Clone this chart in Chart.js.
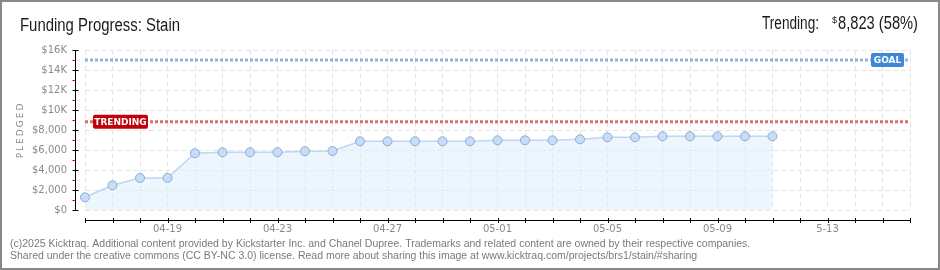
<!DOCTYPE html>
<html>
<head>
<meta charset="utf-8">
<script src="https://cdn.jsdelivr.net/npm/chart.js@4.4.1/dist/chart.umd.min.js"></script>
<style>
  html, body { margin: 0; padding: 0; background: #fff; }
  #wrap { width: 940px; height: 270px; }
</style>
</head>
<body>
<div id="wrap"><canvas id="grafico" width="940" height="270"></canvas></div>
<script>
// days on the x axis (04-16 .. 05-16), the reference prints "5-13" without the zero
const days = [
  "04-16", "04-17", "04-18", "04-19", "04-20", "04-21", "04-22", "04-23",
  "04-24", "04-25", "04-26", "04-27", "04-28", "04-29", "04-30", "05-01",
  "05-02", "05-03", "05-04", "05-05", "05-06", "05-07", "05-08", "05-09",
  "05-10", "05-11", "05-12", "5-13", "05-14", "05-15", "05-16"
];

// pledged amount per day ($)
const pledged = [
  1270, 2470, 3200, 3210, 5670, 5770, 5770, 5780, 5880, 5900,
  6870, 6870, 6870, 6870, 6870, 6970, 6970, 6970, 7070, 7270,
  7270, 7370, 7370, 7370, 7370, 7370
];

const goal = 15000;
const trending = 8823;
const trendingPct = 58;

const title = "Funding Progress: Stain";
const footer = [
  "(c)2025 Kicktraq. Additional content provided by Kickstarter Inc. and Chanel Dupree. Trademarks and related content are owned by their respective companies.",
  "Shared under the creative commons (CC BY-NC 3.0) license. Read more about sharing this image at www.kicktraq.com/projects/brs1/stain/#sharing"
];

const TICK_FONT = "DejaVu Sans";
const HEAD_FONT = "18px 'Liberation Sans', sans-serif";

function money(v) {
  if (v >= 10000) return "$" + (v / 1000) + "K";
  return "$" + v.toLocaleString("en-US");
}

// header text is narrower in the original, squeeze it to a given width
function squeezed(ctx, text, x, y, width) {
  const w = ctx.measureText(text).width;
  ctx.save();
  ctx.translate(x, y);
  ctx.scale(width / w, 1);
  ctx.textAlign = "left";
  ctx.fillText(text, 0, 0);
  ctx.restore();
}

function tag(ctx, text, x1, x2, yc, color) {
  ctx.save();
  ctx.fillStyle = color;
  ctx.beginPath();
  ctx.roundRect(x1, yc - 7, x2 - x1, 14, 2);
  ctx.fill();
  ctx.fillStyle = "#fff";
  ctx.font = "bold 9px " + TICK_FONT;
  ctx.textBaseline = "middle";
  ctx.textAlign = "center";
  ctx.fillText(text, (x1 + x2) / 2, yc + 0.5);
  ctx.restore();
}

const decor = {
  id: "decor",
  beforeDraw(chart) {
    const ctx = chart.ctx;
    ctx.save();
    ctx.fillStyle = "#fff";
    ctx.fillRect(0, 0, chart.width, chart.height);
    ctx.restore();
  },
  afterDatasetsDraw(chart) {
    const { ctx, chartArea: a, scales: { y } } = chart;
    tag(ctx, "TRENDING", a.left + 8, a.left + 63, y.getPixelForValue(trending), "#c0000b");
    tag(ctx, "GOAL", a.right - 39, a.right - 6, y.getPixelForValue(goal), "#3d88d8");
  },
  afterDraw(chart) {
    const { ctx, chartArea: a, scales: { x, y } } = chart;
    ctx.save();

    // x axis, drawn a little below the plot
    const ax = Math.round(a.bottom + 10) + 0.5;
    ctx.strokeStyle = "#000";
    ctx.lineWidth = 1;
    ctx.beginPath();
    ctx.moveTo(a.left, ax);
    ctx.lineTo(a.right, ax);
    for (let i = 0; i < days.length; i++) {
      const px = Math.round(x.getPixelForTick(i)) + 0.5;
      ctx.moveTo(px, ax - 2.5);
      ctx.lineTo(px, ax + 2.5);
    }
    ctx.stroke();

    // y axis, left of the plot
    const ay = Math.round(a.left - 10) + 0.5;
    ctx.beginPath();
    ctx.moveTo(ay, a.top);
    ctx.lineTo(ay, a.bottom + 1);
    for (let v = y.min; v <= y.max; v += 2000) {
      const py = Math.round(y.getPixelForValue(v)) + 0.5;
      ctx.moveTo(ay - 3, py);
      ctx.lineTo(ay + 3, py);
    }
    ctx.stroke();
    ctx.strokeStyle = "#e00000";
    ctx.beginPath();
    for (let v = y.min + 1000; v < y.max; v += 2000) {
      const py = Math.round(y.getPixelForValue(v)) + 0.5;
      ctx.moveTo(ay - 3, py);
      ctx.lineTo(ay, py);
    }
    ctx.stroke();

    // PLEDGED
    ctx.save();
    ctx.translate(21, (a.top + a.bottom) / 2);
    ctx.rotate(-Math.PI / 2);
    ctx.fillStyle = "#8a8a8a";
    ctx.font = "9px " + TICK_FONT;
    ctx.textAlign = "center";
    ctx.textBaseline = "middle";
    ctx.letterSpacing = "2px";
    ctx.fillText("PLEDGED", 0, 0);
    ctx.restore();

    // title
    ctx.fillStyle = "#1a1a1a";
    ctx.textBaseline = "alphabetic";
    ctx.font = HEAD_FONT;
    squeezed(ctx, title, 20, 31, 160);

    // trending text on the right
    squeezed(ctx, "Trending:", 762, 29, 57);
    squeezed(ctx, trending.toLocaleString("en-US") + " (" + trendingPct + "%)", 838, 29, 80);
    ctx.font = "9px 'Liberation Sans', sans-serif";
    ctx.textAlign = "left";
    ctx.fillText("$", 832, 23);

    // footer
    ctx.fillStyle = "#7a7a7a";
    ctx.font = "10.5px 'Liberation Sans', sans-serif";
    ctx.fillText(footer[0], 10, 247);
    ctx.fillText(footer[1], 10, 259);

    // frame
    ctx.strokeStyle = "#888";
    ctx.lineWidth = 2;
    ctx.strokeRect(1, 1, chart.width - 2, chart.height - 2);
    ctx.restore();
  }
};

new Chart(document.getElementById("grafico"), {
  type: "line",
  data: {
    labels: days,
    datasets: [
      {
        label: "Pledged",
        data: pledged,
        borderColor: "#bcd6f3",
        borderWidth: 1.5,
        backgroundColor: "rgba(222,236,251,0.55)",
        fill: "origin",
        tension: 0,
        pointRadius: 4.5,
        pointBackgroundColor: "#c5ddf7",
        pointBorderColor: "#8fabd0",
        pointBorderWidth: 1,
        order: 1
      },
      {
        label: "Goal",
        data: [{ x: days[0], y: goal }, { x: days[days.length - 1], y: goal }],
        borderColor: "#8fb4de",
        borderWidth: 3,
        borderDash: [3, 2],
        pointRadius: 0,
        fill: false,
        order: 2
      },
      {
        label: "Trending",
        data: [{ x: days[0], y: trending }, { x: days[days.length - 1], y: trending }],
        borderColor: "#e06c6c",
        borderWidth: 3,
        borderDash: [3, 2],
        pointRadius: 0,
        fill: false,
        order: 2
      }
    ]
  },
  options: {
    responsive: false,
    animation: false,
    layout: { padding: { top: 50, right: 30, left: 0, bottom: 0 } },
    plugins: { legend: { display: false }, tooltip: { enabled: false } },
    scales: {
      x: {
        offset: false,
        afterFit: (s) => { s.height = 60; },
        grid: { color: "#e4e4e4", drawTicks: false },
        border: { display: false, dash: [5, 3] },
        ticks: {
          autoSkip: false,
          maxRotation: 0,
          padding: 13,
          color: "#8a8a8a",
          font: { family: TICK_FONT, size: 10 },
          callback: (v, i) => (i % 4 === 3 ? days[i] : "")
        }
      },
      y: {
        min: 0,
        max: 16000,
        afterFit: (s) => { s.width = 85; },
        grid: { color: "#e4e4e4", drawTicks: false },
        border: { display: false, dash: [5, 3] },
        ticks: {
          stepSize: 2000,
          padding: 18,
          color: "#8a8a8a",
          font: { family: TICK_FONT, size: 10 },
          callback: (v) => money(v)
        }
      }
    }
  },
  plugins: [decor]
});
</script>
</body>
</html>
